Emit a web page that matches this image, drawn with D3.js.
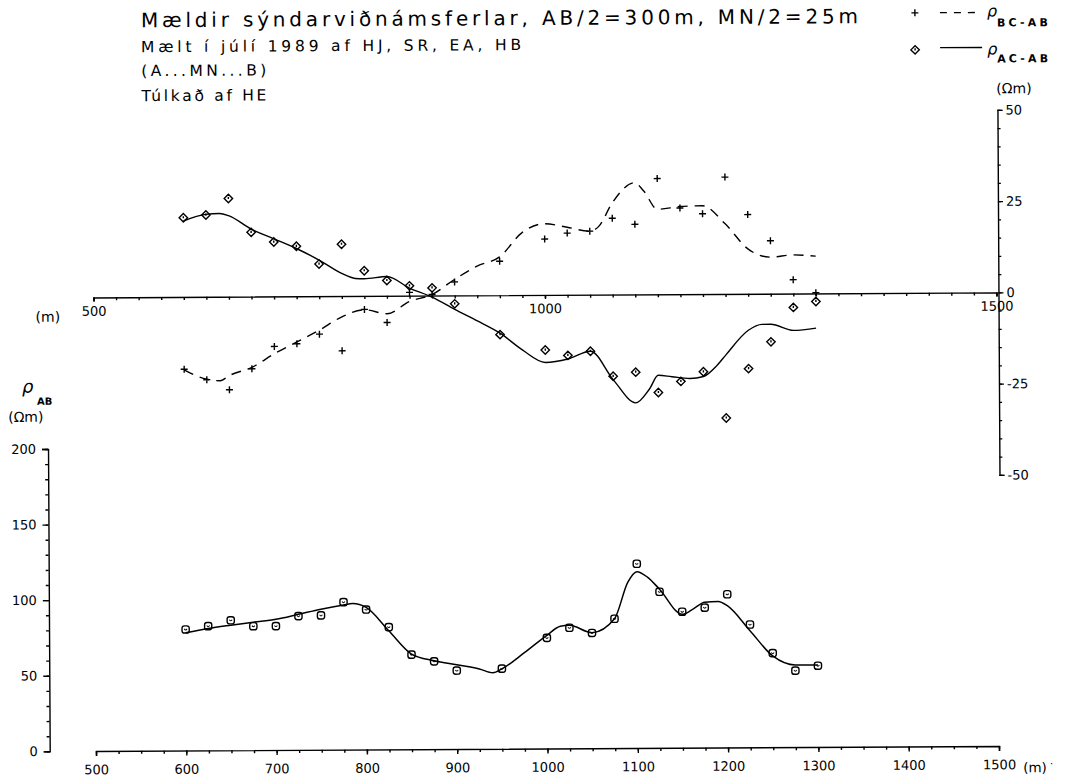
<!DOCTYPE html>
<html>
<head>
<meta charset="utf-8">
<script src="https://cdnjs.cloudflare.com/ajax/libs/d3/7.8.5/d3.min.js"></script>
<style>
body { margin: 0; background: #fff; }
svg text { font-family: "DejaVu Sans", sans-serif; fill: #000; }
</style>
</head>
<body>
<div id="chart"></div>
<script>
/////////////////////////////////////
/// data
/////////////////////////////////////

// measuring stations (m)
var stations = [600, 625, 650, 675, 700, 725, 750, 775, 800, 825, 850, 875, 900,
  950, 1000, 1025, 1050, 1075, 1100, 1125, 1150, 1175, 1200, 1225, 1250, 1275, 1300];

// upper plot, measured points (Ohm m)
var rhoBC = [-19.8, -22.7, -25.5, -19.8, -13.7, -13.0, -10.4, -15.0, -3.7, -7.3, 0.9, 0.3, 3.7,
  9.3, 15.3, 16.9, 17.4, 20.9, 19.2, 31.7, 23.6, 22.0, 32.0, 21.7, 14.5, 3.8, 0.2];
var rhoAC = [21.7, 22.4, 26.9, 17.6, 14.9, 13.7, 8.8, 14.2, 6.9, 4.2, 2.7, 2.1, -2.3,
  -10.8, -15.1, -16.6, -15.5, -22.4, -21.3, -26.9, -23.9, -21.3, -34.0, -20.5, -13.2, -3.8, -2.2];

// lower plot, measured apparent resistivity (Ohm m)
var rhoAB = [80.1, 82.2, 86.0, 82.0, 82.0, 88.5, 88.9, 97.6, 92.6, 80.9, 62.6, 58.1, 51.9,
  53.0, 73.2, 79.8, 76.3, 85.6, 121.9, 103.3, 90.0, 92.6, 101.4, 81.3, 62.3, 50.6, 53.8];

// interpreted (model) curves
var bcModelX = [600, 625, 640, 650, 675, 700, 725, 750, 775, 800, 825, 850, 875, 900, 925, 950,
  975, 1000, 1025, 1050, 1060, 1075, 1100, 1110, 1125, 1150, 1175, 1200, 1225, 1250, 1275, 1300];
var bcModelY = [-20.0, -22.6, -23.0, -21.6, -19.4, -15.7, -12.5, -9.3, -5.7, -3.8, -4.9, -1.6, 0.3, 4.4, 8.0, 10.5,
  17.1, 19.5, 18.5, 17.4, 18.7, 25.1, 30.6, 28.3, 23.3, 24.0, 24.2, 19.2, 12.3, 10.0, 10.6, 10.2];

var acModelX = [600, 625, 640, 650, 675, 700, 725, 750, 775, 790, 800, 825, 850, 875, 900, 925, 950,
  975, 1000, 1025, 1050, 1075, 1100, 1115, 1125, 1140, 1160, 1175, 1190, 1200, 1225, 1240, 1250, 1275, 1300];
var acModelY = [20.8, 22.6, 22.8, 22.2, 18.5, 15.8, 13.1, 9.9, 6.2, 4.8, 4.7, 5.3, 2.1, -0.4, -3.8, -7.0, -10.4,
  -15.1, -18.5, -17.6, -15.5, -23.3, -29.7, -26.0, -22.2, -22.6, -23.1, -22.6, -19.6, -16.7, -10.0, -8.4, -8.4, -10.1, -9.5];

var abModelX = [600, 625, 650, 675, 700, 725, 750, 775, 785, 800, 825, 850, 875, 900, 925, 940, 950,
  975, 1000, 1015, 1025, 1050, 1075, 1090, 1100, 1112, 1125, 1150, 1162, 1175, 1190, 1200, 1225, 1250, 1275, 1300];
var abModelY = [77.9, 80.7, 82.8, 84.7, 86.5, 89.7, 93.0, 95.7, 96.6, 94.0, 78.5, 63.0, 58.5, 55.7, 52.9, 50.3, 52.9,
  63.5, 74.9, 80.8, 81.4, 76.5, 85.6, 109.8, 116.7, 112.9, 105.0, 88.3, 91.7, 96.2, 96.7, 93.8, 77.2, 60.4, 54.3, 54.2];

// tick labels
var upperXLabels = [500, 1000, 1500];
var lowerXLabels = [500, 600, 700, 800, 900, 1000, 1100, 1200, 1300, 1400, 1500];
var rightYLabels = [50, 25, 0, -25, -50];
var leftYLabels = [0, 50, 100, 150, 200];

// texts
var titleLines = [
  "Mældir sýndarviðnámsferlar, AB/2=300m, MN/2=25m",
  "Mælt í júlí 1989 af HJ, SR, EA, HB",
  "(A...MN...B)",
  "Túlkað af HE"
];

/////////////////////////////////////
/// plot code
/////////////////////////////////////

var Sounding_Plot = function(opt) {
  this.element = opt.element;
  this.width = opt.width;
  this.height = opt.height;
  this.tilt = opt.tilt;
  this.draw();
};

Sounding_Plot.prototype.draw = function() {
  var svg = d3.select(this.element).append('svg')
    .attr('width', this.width)
    .attr('height', this.height);

  svg.append('rect')
    .attr('width', this.width)
    .attr('height', this.height)
    .attr('fill', '#fff');

  // the scanned sheet sits slightly askew
  this.plot = svg.append('g')
    .attr('transform', 'rotate(' + this.tilt + ',532,390)');

  this.generateScales();
  this.addTitles();
  this.addAxes();
  this.addLegend();
  this.addCurves();
  this.addPoints();
};

Sounding_Plot.prototype.generateScales = function() {
  this.xScale = d3.scaleLinear().domain([500, 1500]).range([94, 997]);
  this.yUpper = d3.scaleLinear().domain([-50, 50]).range([477.5, 112.5]);
  this.yLower = d3.scaleLinear().domain([0, 200]).range([748.6, 446.3]);
};

Sounding_Plot.prototype.addTitles = function() {
  var t = this.plot.append('g');
  var specs = [
    { x: 143, y: 25, size: 20, len: 717 },
    { x: 143, y: 50, size: 15.5, len: 380 },
    { x: 143, y: 74, size: 15.5, len: 125 },
    { x: 143, y: 99, size: 15.5, len: 125 }
  ];
  specs.forEach(function(s, i) {
    t.append('text')
      .attr('x', s.x).attr('y', s.y)
      .attr('font-size', s.size)
      .attr('textLength', s.len)
      .attr('lengthAdjust', 'spacing')
      .text(titleLines[i]);
  });
};

Sounding_Plot.prototype.styleAxis = function(g) {
  g.attr('font-size', 13).attr('font-family', '"DejaVu Sans", sans-serif');
  g.selectAll('path, line').attr('stroke', '#000').attr('stroke-width', 1.4);
  g.selectAll('text').attr('fill', '#000');
};

Sounding_Plot.prototype.addAxes = function() {
  var that = this;
  var x = this.xScale;
  var y0 = this.yUpper(0);
  var plain = function(d) { return d < 0 ? '-' + Math.abs(d) : String(d); };

  // upper distance axis along the zero line
  var upMinor = d3.axisBottom(x).tickValues(d3.range(500, 1501, 25))
    .tickSize(3).tickSizeOuter(4).tickFormat('');
  this.plot.append('g').attr('transform', 'translate(0,' + y0 + ')')
    .call(upMinor).call(function(g) { that.styleAxis(g); });
  var upMajor = d3.axisBottom(x).tickValues(upperXLabels)
    .tickSize(4).tickSizeOuter(0).tickPadding(5).tickFormat(plain);
  this.plot.append('g').attr('transform', 'translate(0,' + y0 + ')')
    .call(upMajor).call(function(g) { that.styleAxis(g); g.select('.domain').remove(); });

  // right axis of the difference plot
  var xr = x(1500) + 2;
  var rMinor = d3.axisRight(this.yUpper).tickValues(d3.range(-50, 51, 5))
    .tickSize(3).tickSizeOuter(5).tickFormat('');
  this.plot.append('g').attr('transform', 'translate(' + xr + ',0)')
    .call(rMinor).call(function(g) { that.styleAxis(g); });
  var rMajor = d3.axisRight(this.yUpper).tickValues(rightYLabels)
    .tickSize(5).tickSizeOuter(0).tickPadding(3).tickFormat(plain);
  this.plot.append('g').attr('transform', 'translate(' + xr + ',0)')
    .call(rMajor).call(function(g) { that.styleAxis(g); g.select('.domain').remove(); });

  // lower distance axis
  var yb = this.yLower(0);
  var lMinor = d3.axisBottom(x).tickValues(d3.range(500, 1501, 25))
    .tickSize(3).tickSizeOuter(5).tickFormat('');
  this.plot.append('g').attr('transform', 'translate(0,' + yb + ')')
    .call(lMinor).call(function(g) { that.styleAxis(g); });
  var lMajor = d3.axisBottom(x).tickValues(lowerXLabels)
    .tickSize(5).tickSizeOuter(0).tickPadding(9).tickFormat(plain);
  this.plot.append('g').attr('transform', 'translate(0,' + yb + ')')
    .call(lMajor).call(function(g) { that.styleAxis(g); g.select('.domain').remove(); });

  // lower resistivity axis
  var xl = 47.7;
  var yMinor = d3.axisLeft(this.yLower).tickValues(d3.range(0, 201, 10))
    .tickSize(3).tickSizeOuter(6).tickFormat('');
  this.plot.append('g').attr('transform', 'translate(' + xl + ',0)')
    .call(yMinor).call(function(g) { that.styleAxis(g); });
  var yMajor = d3.axisLeft(this.yLower).tickValues(leftYLabels)
    .tickSize(6).tickSizeOuter(0).tickPadding(6).tickFormat(plain);
  this.plot.append('g').attr('transform', 'translate(' + xl + ',0)')
    .call(yMajor).call(function(g) { that.styleAxis(g); g.select('.domain').remove(); });

  // unit labels
  var u = this.plot.append('g').attr('font-size', 14);
  u.append('text').attr('x', 36).attr('y', 319).text('(m)');
  u.append('text').attr('x', 1021).attr('y', 775).attr('font-size', 13.5).text('(m)');
  u.append('text').attr('x', 1048).attr('y', 770).attr('font-size', 10).text('·');
  u.append('text').attr('x', 998).attr('y', 96).text('(Ωm)');
  u.append('text').attr('x', 8).attr('y', 419).text('(Ωm)');
  u.append('text').attr('x', 22).attr('y', 390).attr('font-size', 18)
    .attr('font-style', 'italic').text('ρ');
  u.append('text').attr('x', 37).attr('y', 402).attr('font-size', 10)
    .attr('font-weight', 'bold').text('AB');
};

Sounding_Plot.prototype.plusPath = 'M-3.5,0H3.5M0,-3.5V3.5';
Sounding_Plot.prototype.diamondPath = 'M0,-4.2L4.2,0L0,4.2L-4.2,0Z M0,-1.6V0.6';

Sounding_Plot.prototype.addLegend = function() {
  var g = this.plot.append('g');
  g.append('path').attr('d', this.plusPath).attr('transform', 'translate(917,15)')
    .attr('stroke', '#000').attr('stroke-width', 1.4).attr('fill', 'none');
  g.append('line').attr('x1', 942).attr('x2', 984).attr('y1', 15).attr('y2', 15)
    .attr('stroke', '#000').attr('stroke-width', 1.3).attr('stroke-dasharray', '7,7');
  g.append('path').attr('d', this.diamondPath).attr('transform', 'translate(917,52)')
    .attr('stroke', '#000').attr('stroke-width', 1.4).attr('fill', 'none');
  g.append('line').attr('x1', 942).attr('x2', 984).attr('y1', 50).attr('y2', 50)
    .attr('stroke', '#000').attr('stroke-width', 1.3);

  var labels = [{ y: 19, sub: 'BC-AB', sy: 29 }, { y: 57, sub: 'AC-AB', sy: 65 }];
  labels.forEach(function(l) {
    g.append('text').attr('x', 989).attr('y', l.y).attr('font-size', 16)
      .attr('font-style', 'italic').text('ρ');
    g.append('text').attr('x', 999).attr('y', l.sy).attr('font-size', 11)
      .attr('font-weight', 'bold').attr('textLength', 51).attr('lengthAdjust', 'spacing')
      .text(l.sub);
  });
};

Sounding_Plot.prototype.addCurves = function() {
  var that = this;
  var zipped = function(xs, ys) {
    return xs.map(function(d, i) { return { x: d, y: ys[i] }; });
  };
  var lineUp = d3.line()
    .x(function(d) { return that.xScale(d.x); })
    .y(function(d) { return that.yUpper(d.y); })
    .curve(d3.curveMonotoneX);
  var lineLow = d3.line()
    .x(function(d) { return that.xScale(d.x); })
    .y(function(d) { return that.yLower(d.y); })
    .curve(d3.curveMonotoneX);

  this.plot.append('path').datum(zipped(bcModelX, bcModelY))
    .attr('d', lineUp).attr('fill', 'none').attr('stroke', '#000')
    .attr('stroke-width', 1.4).attr('stroke-dasharray', '10,7');
  this.plot.append('path').datum(zipped(acModelX, acModelY))
    .attr('d', lineUp).attr('fill', 'none').attr('stroke', '#000')
    .attr('stroke-width', 1.4);
  this.plot.append('path').datum(zipped(abModelX, abModelY))
    .attr('d', lineLow).attr('fill', 'none').attr('stroke', '#000')
    .attr('stroke-width', 1.5);
};

Sounding_Plot.prototype.addPoints = function() {
  var that = this;
  var data = stations.map(function(s, i) {
    return { x: s, bc: rhoBC[i], ac: rhoAC[i], ab: rhoAB[i] };
  });

  this.plot.append('g').selectAll('path').data(data).enter().append('path')
    .attr('d', this.plusPath)
    .attr('transform', function(d) {
      return 'translate(' + that.xScale(d.x) + ',' + that.yUpper(d.bc) + ')';
    })
    .attr('stroke', '#000').attr('stroke-width', 1.4).attr('fill', 'none');

  this.plot.append('g').selectAll('path').data(data).enter().append('path')
    .attr('d', this.diamondPath)
    .attr('transform', function(d) {
      return 'translate(' + that.xScale(d.x) + ',' + that.yUpper(d.ac) + ')';
    })
    .attr('stroke', '#000').attr('stroke-width', 1.4).attr('fill', 'none');

  var low = this.plot.append('g').selectAll('g').data(data).enter().append('g')
    .attr('transform', function(d) {
      return 'translate(' + that.xScale(d.x) + ',' + that.yLower(d.ab) + ')';
    });
  low.append('rect')
    .attr('x', -3.6).attr('y', -3.6).attr('width', 7.2).attr('height', 7.2)
    .attr('rx', 2.4)
    .attr('fill', 'none').attr('stroke', '#000').attr('stroke-width', 1.4);
  low.append('path').attr('d', 'M-1.4,-0.6Q0,1.6 1.4,-0.6')
    .attr('fill', 'none').attr('stroke', '#000').attr('stroke-width', 1);
};

var chart = new Sounding_Plot({
  element: '#chart',
  width: 1065,
  height: 779,
  tilt: -0.32
});
</script>
</body>
</html>
